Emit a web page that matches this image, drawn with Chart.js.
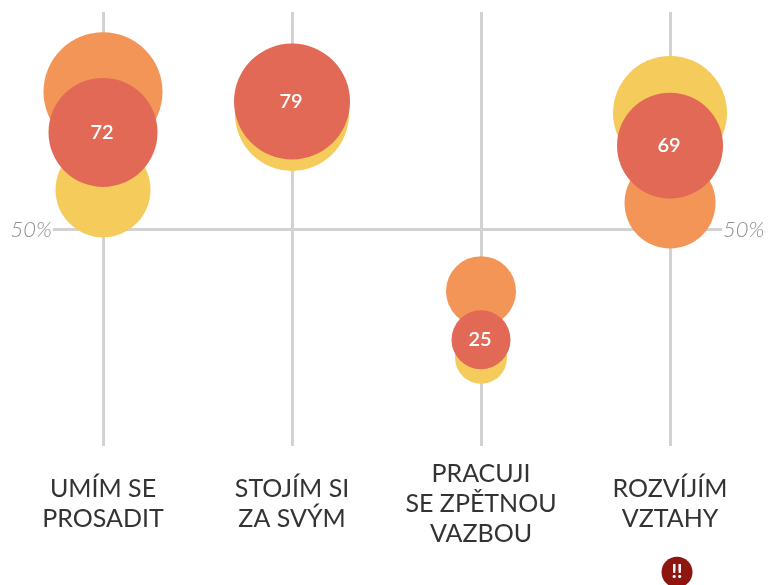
<!DOCTYPE html>
<html><head><meta charset="utf-8">
<style>html,body{margin:0;padding:0;background:#fff}canvas{display:block}</style>
<script src="https://cdn.jsdelivr.net/npm/chart.js@4"></script>
</head><body><canvas id="c" width="777" height="585"></canvas>
<script>
const categories = [["UMÍM SE","PROSADIT"],["STOJÍM SI","ZA SVÝM"],["PRACUJI","SE ZPĚTNOU","VAZBOU"],["ROZVÍJÍM","VZTAHY"]];
const columns = [0,1,2,3];
const yTicks = [50];
const redValues = [72,79,25,69];
const redSizes = [54.5,58,29.5,53];
const orangeValues = [81.2,null,36,56];
const orangeSizes = [59.5,null,35,45.5];
const yellowValues = [59,76.2,20.9,76.4];
const yellowSizes = [47.5,57,26,57];
const badgeX = 3.037, badgeY = -27.7, badgeSize = 15.5, badgeText = "!!";
const FONT = "Lato";

const pts = (vals,sizes,xs=columns) => xs.map((x,i)=>({x,y:vals[i],r:sizes[i]}));

const labels = {
  id:'labels',
  afterDatasetsDraw(chart){
    const {ctx,scales}=chart;
    ctx.save();ctx.textAlign='center';ctx.textBaseline='middle';
    ctx.fillStyle='#fff';
    ctx.font=`600 20px ${FONT}`;
    chart.getDatasetMeta(2).data.forEach((el,i)=>ctx.fillText(String(redValues[i]),el.x-1,el.y));
    const bx=scales.x.getPixelForValue(badgeX), by=scales.y.getPixelForValue(badgeY);
    ctx.fillStyle='#8E1610';
    ctx.beginPath();ctx.arc(bx,by,badgeSize,0,Math.PI*2);ctx.fill();
    ctx.fillStyle='#fff';
    ctx.font=`900 19px ${FONT}`;
    ctx.fillText(badgeText,bx,by);
    ctx.restore();
  }
};
const yAxis = (position,w) => ({
  type:'linear',position,min:0.9,max:99.3,
  afterBuildTicks(s){s.ticks=yTicks.map(v=>({value:v}));},
  afterFit(s){s.width=w;s.paddingTop=0;s.paddingBottom=0;},
  border:{display:false},
  grid:{display:position==='left',color:'#d2d2d2',lineWidth:3,drawTicks:false},
  ticks:{padding:1,color:'#8f8f8f',font:{family:FONT,size:22,style:'italic',weight:300},callback:v=>v+'%'}
});
new Chart(document.getElementById('c'),{
  type:'bubble',
  data:{datasets:[
    {label:'A',data:pts(orangeValues,orangeSizes),backgroundColor:'#F29557',order:3,clip:false},
    {label:'B',data:pts(yellowValues,yellowSizes),backgroundColor:'#F5CB5C',order:2,clip:false},
    {label:'C',data:pts(redValues,redSizes),backgroundColor:'#E26955',order:1,clip:false}
  ]},
  plugins:[labels],
  options:{
    responsive:false,animation:false,
    layout:{autoPadding:false,padding:{top:12,left:0,right:0,bottom:0}},
    plugins:{legend:{display:false},tooltip:{enabled:false}},
    elements:{point:{borderWidth:0,hoverBorderWidth:0}},
    scales:{
      x:{type:'linear',position:'bottom',min:-0.2646,max:3.275,
        afterBuildTicks(s){s.ticks=columns.map(v=>({value:v}));},
        afterFit(s){s.height=139;s.paddingLeft=0;s.paddingRight=0;},
        border:{display:false},
        grid:{color:'#d2d2d2',lineWidth:3,drawTicks:false},
        ticks:{maxRotation:0,autoSkip:false,crossAlign:'center',padding:28,color:'#333',
          font:{family:FONT,size:25,lineHeight:1.2},
          callback:v=>categories[v]}
      },
      y:yAxis('left',53),
      y2:yAxis('right',55)
    }
  }
});
</script></body></html>
